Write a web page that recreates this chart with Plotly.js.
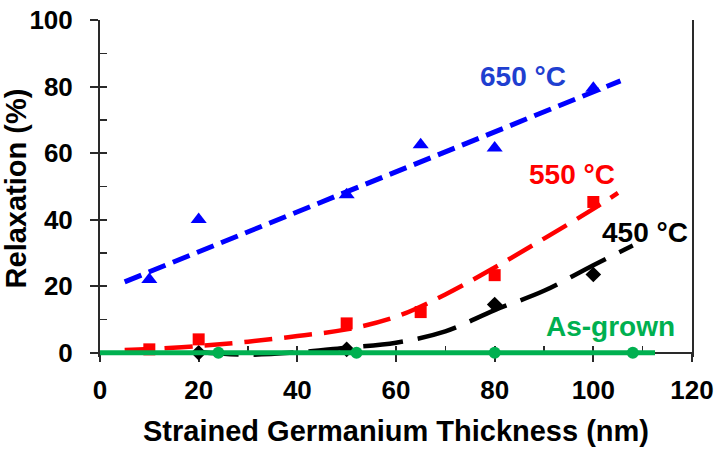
<!DOCTYPE html>
<html>
<head>
<meta charset="utf-8">
<script src="https://cdn.plot.ly/plotly-3.0.1.min.js"></script>
<style>html,body{margin:0;padding:0;background:#fff}#chart{width:717px;height:453px}</style>
</head>
<body>
<div id="chart"></div>
<script>
// Measured points
const x650 = [10, 20, 50, 65, 80, 100];
const y650 = [22, 40, 47.5, 62.5, 61.5, 79.5];
const x550 = [10, 20, 50, 65, 80, 100];
const y550 = [1, 4, 8.8, 12.2, 23.3, 45.3];
const x450 = [20, 50, 80, 100];
const y450 = [0, 1, 14.5, 23.5];
const xGrown = [24, 52, 80, 108];
const yGrown = [0, 0, 0, 0];
const xGrownLine = [0, 112.5];
const yGrownLine = [0, 0];

// Trend lines
const fit650X = [5, 105.5];
const fit650Y = [21.3, 81.7];
const fit550X = [5, 10, 20, 30, 40, 50, 60, 70, 80, 90, 100, 105];
const fit550Y = [0.8, 1.1, 2, 3.3, 5, 7, 10.8, 17.5, 25.6, 34.3, 43.2, 48];
const fit450X = [20, 30, 40, 50, 60, 70, 80, 90, 100, 108];
const fit450Y = [0.2, -0.6, 0.1, 1.5, 3, 6.4, 12.8, 18.6, 26.3, 32.2];

// Labels
const labelText = ['650 °C', '550 °C', '450 °C', 'As-grown'];
const labelX = [85.7, 95.7, 110.5, 103.4];
const labelY = [83, 53.5, 36, 8];
const labelColor = ['#1f3fd0', '#ff0000', '#000000', '#00b050'];

const xTickVals = [0, 20, 40, 60, 80, 100, 120];
const yTickVals = [0, 20, 40, 60, 80, 100];

const FONT = 'Liberation Sans, Arial, sans-serif';
const YMIN = -1.3;            // small pad below zero so the y=0 line is not clipped
const ZERO_POS = -YMIN / (100 - YMIN);
const AXC = '#2a2a2a';

const traces = [
  {x: fit450X, y: fit450Y, mode: 'lines', line: {color: '#000', width: 4.5, dash: '40px,15px', shape: 'spline'}, hoverinfo: 'skip'},
  {x: x450, y: y450, mode: 'markers', cliponaxis: false, marker: {symbol: 'diamond', size: 12, color: '#000'}},
  {x: fit550X, y: fit550Y, mode: 'lines', line: {color: '#ff0000', width: 4.5, dash: '28px,12px', shape: 'spline'}, hoverinfo: 'skip'},
  {x: x550, y: y550, mode: 'markers', cliponaxis: false, marker: {symbol: 'square', size: 12, color: '#ff0000'}},
  {x: fit650X, y: fit650Y, mode: 'lines', line: {color: '#0000ff', width: 5, dash: '18px,8px'}, hoverinfo: 'skip'},
  {x: x650, y: y650, mode: 'markers', cliponaxis: false, marker: {symbol: 'triangle-up', size: 14, color: '#0000ff'}},
  {x: xGrownLine, y: yGrownLine, mode: 'lines', line: {color: '#00b050', width: 5}},
  {x: xGrown, y: yGrown, mode: 'markers', cliponaxis: false, marker: {symbol: 'circle', size: 12, color: '#00b050'}},
  {x: [], y: [], xaxis: 'x2', yaxis: 'y2', mode: 'markers'}
];

const annotations = labelText.map((t, i) => ({
  x: labelX[i], y: labelY[i], xref: 'x', yref: 'y', text: t, showarrow: false,
  font: {family: FONT, size: 28, color: labelColor[i], weight: 'bold'}, xanchor: 'center', yanchor: 'middle'
}));

const layout = {
  width: 717, height: 453,
  margin: {l: 100, r: 25, t: 20, b: 95.7},
  paper_bgcolor: '#fff', plot_bgcolor: 'rgba(0,0,0,0)',
  showlegend: false,
  font: {family: FONT, color: '#000'},
  xaxis: {
    range: [0, 120], tickvals: xTickVals, ticks: 'outside', ticklen: 8, tickwidth: 2, tickcolor: AXC,
    anchor: 'free', position: ZERO_POS, layer: 'below traces',
    showline: true, linecolor: AXC, linewidth: 2, mirror: true, showgrid: false, zeroline: false,
    tickfont: {family: FONT, size: 26, color: '#000', weight: 'bold'}, ticklabelstandoff: 6,
    title: {text: 'Strained Germanium Thickness (nm)', font: {family: FONT, size: 29, color: '#000', weight: 'bold'}, standoff: 16}
  },
  yaxis: {
    range: [YMIN, 100], tickvals: yTickVals, ticks: 'outside', ticklen: 8, tickwidth: 2, tickcolor: AXC,
    layer: 'below traces',
    showline: true, linecolor: AXC, linewidth: 2, mirror: true, showgrid: false, zeroline: false,
    tickfont: {family: FONT, size: 26, color: '#000', weight: 'bold'}, ticklabelstandoff: 12,
    title: {text: 'Relaxation (%)', font: {family: FONT, size: 29, color: '#000', weight: 'bold'}, standoff: 2}
  },
  xaxis2: {
    overlaying: 'x', anchor: 'free', position: ZERO_POS, range: [0, 120], dtick: 20, tick0: 0, ticks: 'inside', ticklen: 7, tickwidth: 2, tickcolor: AXC,
    minor: {ticks: 'inside', dtick: 10, tick0: 0, ticklen: 7, tickwidth: 1.5, tickcolor: AXC},
    layer: 'below traces',
    showticklabels: false, showline: false, showgrid: false, zeroline: false
  },
  yaxis2: {
    overlaying: 'y', anchor: 'x2', range: [YMIN, 100], dtick: 20, tick0: 0, ticks: 'inside', ticklen: 7, tickwidth: 2, tickcolor: AXC,
    minor: {ticks: 'inside', dtick: 10, tick0: 0, ticklen: 7, tickwidth: 1.5, tickcolor: AXC},
    layer: 'below traces',
    showticklabels: false, showline: false, showgrid: false, zeroline: false
  },
  annotations: annotations
};

Plotly.newPlot('chart', traces, layout, {displayModeBar: false, staticPlot: true});
</script>
</body>
</html>
